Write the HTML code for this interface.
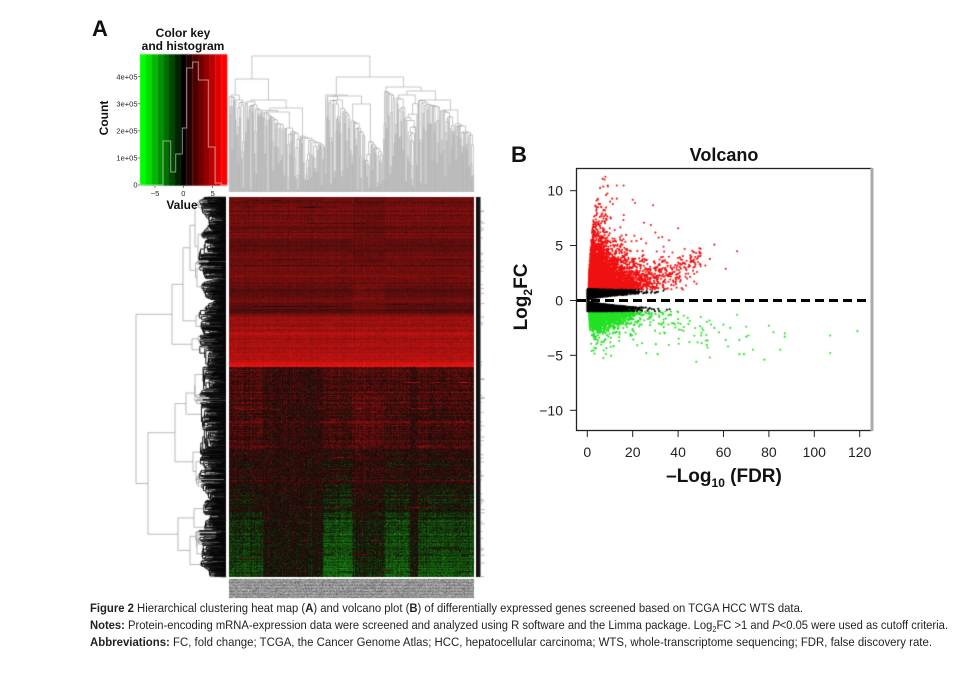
<!DOCTYPE html>
<html><head><meta charset="utf-8">
<style>
html,body{margin:0;padding:0;background:#fff;}
#wrap{position:relative;width:958px;height:678px;overflow:hidden;background:#fff;}
canvas,svg{position:absolute;left:0;top:0;}
</style></head><body>
<div id="wrap">
<canvas id="c" width="958" height="678"></canvas>
<svg width="958" height="678" viewBox="0 0 958 678" xmlns="http://www.w3.org/2000/svg" font-family="'Liberation Sans', Arial, sans-serif">
  <!-- Panel A labels -->
  <text x="92" y="36" font-size="22" font-weight="bold" fill="#111">A</text>
  <text x="183" y="37" font-size="12" font-weight="bold" text-anchor="middle" fill="#111">Color key</text>
  <text x="183" y="50" font-size="12" font-weight="bold" text-anchor="middle" fill="#111">and histogram</text>
  <polyline fill="none" stroke="rgba(215,215,215,0.65)" stroke-width="1"
    points="140,185 163,185 163,141 170.7,141 170.7,172 175.7,172 175.7,154 182.3,154 182.3,128 186.7,128 186.7,68 192.7,68 192.7,62 198.3,62 198.3,80 208.3,80 208.3,147 215,147 215,183 221,183 221,185 227,185"/>
  <g font-size="7.5" fill="#222" text-anchor="end">
    <text x="137.5" y="79.5">4e+05</text>
    <text x="137.5" y="106.5">3e+05</text>
    <text x="137.5" y="133.5">2e+05</text>
    <text x="137.5" y="160.5">1e+05</text>
    <text x="137.5" y="187.5">0</text>
  </g>
  <g stroke="#333" stroke-width="0.6">
    <line x1="138" y1="76.7" x2="140" y2="76.7"/><line x1="138" y1="103.8" x2="140" y2="103.8"/>
    <line x1="138" y1="130.9" x2="140" y2="130.9"/><line x1="138" y1="158" x2="140" y2="158"/>
    <line x1="138" y1="185" x2="140" y2="185"/>
    <line x1="155" y1="186" x2="155" y2="188"/><line x1="183.3" y1="186" x2="183.3" y2="188"/><line x1="212.7" y1="186" x2="212.7" y2="188"/>
  </g>
  <g font-size="7.5" fill="#222" text-anchor="middle">
    <text x="155" y="196">−5</text>
    <text x="183.3" y="196">0</text>
    <text x="212.7" y="196">5</text>
  </g>
  <text x="182" y="209" font-size="12" font-weight="bold" text-anchor="middle" fill="#111">Value</text>
  <text transform="translate(108,118) rotate(-90)" font-size="12" font-weight="bold" text-anchor="middle" fill="#111">Count</text>

  <!-- Panel B -->
  <text x="511" y="162" font-size="22" font-weight="bold" fill="#111">B</text>
  <text x="724" y="161" font-size="18" font-weight="bold" text-anchor="middle" fill="#111">Volcano</text>
  <line x1="577" y1="300.5" x2="871" y2="300.5" stroke="#000" stroke-width="3" stroke-dasharray="9,5"/>
  <rect x="576.5" y="168.5" width="295" height="262" fill="none" stroke="#222" stroke-width="1.3"/>
  <line x1="872" y1="168" x2="872" y2="431" stroke="#aaa" stroke-width="3"/>
  <g stroke="#222" stroke-width="1">
    <line x1="570" y1="190.7" x2="576" y2="190.7"/>
    <line x1="570" y1="245.5" x2="576" y2="245.5"/>
    <line x1="570" y1="300.5" x2="576" y2="300.5"/>
    <line x1="570" y1="355.3" x2="576" y2="355.3"/>
    <line x1="570" y1="410.3" x2="576" y2="410.3"/>
    <line x1="587.3" y1="431" x2="587.3" y2="437"/>
    <line x1="632.7" y1="431" x2="632.7" y2="437"/>
    <line x1="678.1" y1="431" x2="678.1" y2="437"/>
    <line x1="723.5" y1="431" x2="723.5" y2="437"/>
    <line x1="768.9" y1="431" x2="768.9" y2="437"/>
    <line x1="814.3" y1="431" x2="814.3" y2="437"/>
    <line x1="859.7" y1="431" x2="859.7" y2="437"/>
  </g>
  <g font-size="14" fill="#222" text-anchor="end">
    <text x="563" y="195.7">10</text>
    <text x="563" y="250.5">5</text>
    <text x="563" y="305.5">0</text>
    <text x="563" y="360.3">−5</text>
    <text x="563" y="415.3">−10</text>
  </g>
  <g font-size="14" fill="#222" text-anchor="middle">
    <text x="587.3" y="457">0</text>
    <text x="632.7" y="457">20</text>
    <text x="678.1" y="457">40</text>
    <text x="723.5" y="457">60</text>
    <text x="768.9" y="457">80</text>
    <text x="814.3" y="457">100</text>
    <text x="859.7" y="457">120</text>
  </g>
  <text transform="translate(527,297) rotate(-90)" font-size="19" font-weight="bold" text-anchor="middle" fill="#111">Log<tspan font-size="12" dy="5">2</tspan><tspan dy="-5">FC</tspan></text>
  <text x="724" y="482" font-size="19" font-weight="bold" text-anchor="middle" fill="#111">–Log<tspan font-size="12" dy="5">10</tspan><tspan dy="-5"> (FDR)</tspan></text>

  <!-- Caption -->
  <g font-size="12.3" fill="#231f20">
    <text x="90" y="612" textLength="713" lengthAdjust="spacingAndGlyphs"><tspan font-weight="bold">Figure 2</tspan> Hierarchical clustering heat map (<tspan font-weight="bold">A</tspan>) and volcano plot (<tspan font-weight="bold">B</tspan>) of differentially expressed genes screened based on TCGA HCC WTS data.</text>
    <text x="90" y="629" textLength="858" lengthAdjust="spacingAndGlyphs"><tspan font-weight="bold">Notes:</tspan> Protein-encoding mRNA-expression data were screened and analyzed using R software and the Limma package. Log<tspan font-size="8" dy="3">2</tspan><tspan dy="-3">FC &gt;1 and </tspan><tspan font-style="italic">P</tspan>&lt;0.05 were used as cutoff criteria.</text>
    <text x="90" y="646" textLength="842" lengthAdjust="spacingAndGlyphs"><tspan font-weight="bold">Abbreviations:</tspan> FC, fold change; TCGA, the Cancer Genome Atlas; HCC, hepatocellular carcinoma; WTS, whole-transcriptome sequencing; FDR, false discovery rate.</text>
  </g>
</svg>
</div>
<script>
(function(){
const cv=document.getElementById('c'); const ctx=cv.getContext('2d');
let seed=2463534242;
function rnd(){ let x=seed; x^=x<<13; x>>>=0; x^=x>>>17; x^=x<<5; x>>>=0; seed=x; return x/4294967296; }
function gauss(){ let u=rnd(); if(u<1e-12)u=1e-12; return Math.sqrt(-2*Math.log(u))*Math.cos(6.283185307*rnd()); }
function expo(m){ let u=rnd(); if(u<1e-12)u=1e-12; return -Math.log(u)*m; }
function interp(p,v){ if(v<=p[0][0]) return p[0][1]; for(let i=0;i<p.length-1;i++){ if(v<=p[i+1][0]){ const t=(v-p[i][0])/(p[i+1][0]-p[i][0]); return p[i][1]+t*(p[i+1][1]-p[i][1]); } } return p[p.length-1][1]; }
function cl(v){ return v<0?0:(v>255?255:Math.round(v)); }

// ---------- Color key stripes ----------
const nS=15, kx0=140, kx1=227, ky0=54.3, ky1=185.7;
for(let i=0;i<nS;i++){
  const v=-7.6+(i+0.5)*15.3/nS;
  let r=0,g=0;
  if(v<0) g=255*Math.min(1,-v/7.0); else r=255*Math.min(1,v/7.0);
  ctx.fillStyle='rgb('+cl(r)+','+cl(g)+',0)';
  const xa=kx0+i*(kx1-kx0)/nS, xb=kx0+(i+1)*(kx1-kx0)/nS;
  ctx.fillRect(xa,ky0,xb-xa+0.3,ky1-ky0);
}

// ---------- Dendrogram helper ----------
function dendro(pos,m,leafEnd,seg){
  function rec(a,b){
    if(a===b) return [pos[a],leafEnd];
    let k=a,best=m[a];
    for(let i=a+1;i<b;i++){ if(m[i]<best){best=m[i];k=i;} }
    const L=rec(a,k),R=rec(k+1,b);
    seg(L[0],best,R[0],best);
    seg(L[0],best,L[0],L[1]);
    seg(R[0],best,R[0],R[1]);
    return [(L[0]+R[0])/2,best];
  }
  rec(0,pos.length-1);
}

// ---------- Top dendrogram ----------
(function(){
  const N=360, pos=[], m=[];
  for(let i=0;i<N;i++) pos.push(229+(i+0.5)*245/N);
  const env=[[229,100],[250,106],[262,114],[280,128],[300,140],[325,150],[326,98],[340,110],[383,160],[384,94],[400,104],[405,112],[412,150],[418,104],[440,112],[474,142]];
  for(let k=0;k<N-1;k++){
    const xb=229+(k+1)*245/N;
    const e=interp(env,xb)-4;
    m.push(e+(192-e)*Math.pow(rnd(),3));
  }
  const forced=[[325,56],[383,77],[245,79],[395,87],[418,91],[440,100],[300,108],[262,100],[350,96],[365,104],[285,112],[455,110],[235,95],[340,100],[405,95]];
  forced.forEach(f=>{ const k=Math.max(0,Math.min(N-2,Math.round((f[0]-229)/245*N-1))); m[k]=f[1]; });
  ctx.save(); ctx.strokeStyle='#8c8c8c'; ctx.lineWidth=0.5; ctx.beginPath();
  dendro(pos,m,192,(x1,y1,x2,y2)=>{ ctx.moveTo(x1,y1); ctx.lineTo(x2,y2); });
  ctx.stroke(); ctx.restore();
})();

// ---------- Left dendrogram ----------
(function(){
  const N=1000, pos=[], m=[];
  for(let i=0;i<N;i++) pos.push(197+(i+0.5)*380/N);
  for(let k=0;k<N-1;k++){
    const y=197+(k+1)*380/N;
    const L=204+4*Math.sin(y*0.09)+3.5*Math.sin(y*0.23+1)+2*Math.sin(y*0.61);
    m.push(L+(226-L)*Math.pow(rnd(),2.2));
  }
  const forced=[[367,136],[335,172],[500,148],[300,183],[260,190],[225,195],[430,175],[530,178],[405,186],[560,190],[470,196],[280,197],[345,192],[390,195],[515,194],[240,198],[320,196],[455,193],[545,197]];
  forced.forEach(f=>{ const k=Math.max(0,Math.min(N-2,Math.round((f[0]-197)/380*N-1))); m[k]=f[1]; });
  const gray=[], blk=[];
  dendro(pos,m,226,(p1,h1,p2,h2)=>{ const s=[h1,p1,h2,p2]; if(Math.min(h1,h2)>=199) blk.push(s); else gray.push(s); });
  ctx.save();
  ctx.strokeStyle='#8a8a8a'; ctx.lineWidth=0.6; ctx.beginPath();
  gray.forEach(s=>{ ctx.moveTo(s[0],s[1]); ctx.lineTo(s[2],s[3]); }); ctx.stroke();
  ctx.strokeStyle='#000'; ctx.lineWidth=0.9; ctx.beginPath();
  blk.forEach(s=>{ ctx.moveTo(s[0],s[1]); ctx.lineTo(s[2],s[3]); }); ctx.stroke();
  ctx.restore();
})();

// ---------- Heatmap ----------
(function(){
  const HX=229,HY=197,HW=245,HH=380;
  const img=ctx.createImageData(HW,HH); const d=img.data;
  const rowEff=[],colEff=[],segs=[];
  for(let j=0;j<HH;j++){ rowEff.push(gauss()*0.05);
    const s=[]; const y=HY+j;
    if(y>=367 && rnd()<0.07){ const n=2+Math.floor(rnd()*4); for(let q=0;q<n;q++){ const a=229+rnd()*235; s.push([a,a+5+rnd()*16,0.16+rnd()*0.18]); } }
    if(y<313 && rnd()<0.05){ const n=2+Math.floor(rnd()*3); for(let q=0;q<n;q++){ const a=229+rnd()*235; s.push([a,a+10+rnd()*30,-0.12]); } }
    segs.push(s);
  }
  for(let i=0;i<HW;i++) colEff.push(gauss()*0.035);
  const topPts=[[197,0.36],[300,0.36],[312,0.34],[316,0.52],[355,0.60],[362,0.70],[366,0.74]];
  const botPts=[[367,0.22],[420,0.18],[455,0.11],[480,0.03],[510,-0.1],[545,-0.2],[577,-0.3]];
  function group(x){ if(x<263) return 0.8; if(x<323) return 0.45; if(x<353) return 1.05; if(x<385) return 0.6; if(x<410) return 1.0; if(x<418) return 0.45; return 0.92; }
  for(let j=0;j<HH;j++){
    const y=HY+j;
    for(let i=0;i<HW;i++){
      const x=HX+i; let v;
      if(y<367){
        v=interp(topPts,y)+rowEff[j]+colEff[i]*0.5+gauss()*0.045;
        if(((y>238&&y<250)||(y>284&&y<300)||(y>302&&y<313)) && !(x>=353&&x<385)) v*=0.82;
        if(x>=353&&x<385&&y<262) v*=0.88;
      } else {
        let b=interp(botPts,y)+rowEff[j]*1.3;
        const g=group(x);
        if(b<0.2) b=0.2+(b-0.2)*g*1.1;
        if(g<0.5) b*=0.6;
        if(x>=353&&x<385&&y>395&&y<445) b+=0.06;
        v=b+colEff[i]+gauss()*0.09;
      }
      const s=segs[j];
      for(let q=0;q<s.length;q++){ if(x>=s[q][0]&&x<=s[q][1]) v+=s[q][2]; }
      let R,G,B;
      if(v>=0){ R=18+255*v; G=10+12*v; B=10+10*v; } else { const a=-v; R=18+5*a; G=14+245*a; B=10+12*a; }
      const o=(j*HW+i)*4; d[o]=cl(R); d[o+1]=cl(G); d[o+2]=cl(B); d[o+3]=255;
    }
  }
  ctx.putImageData(img,HX,HY);
})();

// ---------- Bottom label strip ----------
(function(){
  const X=229,Y=579,W=245,H=19;
  const img=ctx.createImageData(W,H); const d=img.data;
  for(let j=0;j<H;j++){ const re=(j%3===0)?-18:(j%3===1?8:0);
    for(let i=0;i<W;i++){ const v=cl(150+re+gauss()*18); const o=(j*W+i)*4; d[o]=v; d[o+1]=v; d[o+2]=v; d[o+3]=255; } }
  ctx.putImageData(img,X,Y);
})();

// ---------- Right bar ----------
ctx.fillStyle='#111'; ctx.fillRect(476,197,4.5,380);
ctx.strokeStyle='#777'; ctx.lineWidth=0.5; ctx.beginPath();
for(let i=0;i<60;i++){ const y=197+rnd()*380; ctx.moveTo(480.5,y); ctx.lineTo(482+rnd()*3,y); }
ctx.stroke();

// ---------- Volcano ----------
(function(){
  const X=x=>587.3+2.27*x, Y=y=>300.5-10.95*y;
  const red=[],green=[],black=[];
  for(let i=0;i<5200;i++){
    const y=1+expo(1.3); if(y>11.3) continue;
    const xmin=0.5+0.04*y*y;
    const sp=y<2?6.5:(y<4?7:(y<6?5:3));
    const x=xmin+expo(sp); if(x>48) continue;
    red.push([x,y]);
  }
  for(let i=0;i<220;i++){ const x=18+rnd()*32; const y=1.3+(x-15)*0.07+gauss()*0.7; if(y<1.05) continue; red.push([x,y]); }
  [[8,11.3],[7,10.4],[9,10.5],[13,10.5],[16,10.5],[11,9.3],[13,9.3],[20,9.2],[21,8.9],[29,8.7],[25,7.1],[28,6.9],[40,6.6],[36,5.5],[56,5.1],[50,4.3],[47,4.4],[66,4.5],[61,2.9],[52,3.2],[44,2.0],[54,3.8],[33,5.8],[30,6.2]].forEach(p=>red.push(p));
  for(let i=0;i<1800;i++){
    const a=1+expo(0.55); if(a>5.7) continue;
    const xmin=0.7+0.05*a*a;
    const x=xmin+expo(a<2?6.5:7); if(x>45) continue;
    green.push([x,-a]);
  }
  for(let i=0;i<40;i++){ const x=30+rnd()*25; const a=1.3+rnd()*2.8; green.push([x,-a]); }
  [[66,-1.3],[70,-2.4],[67,-3.6],[70,-3.3],[71,-3.2],[67,-4.9],[69,-4.9],[73,-4.5],[78,-5.4],[80,-2.3],[82,-2.9],[85,-4.5],[87,-3.0],[87,-3.3],[107,-3.2],[107,-4.8],[119,-2.8],[60,-2.2],[61,-3.6],[62,-4.2],[53,-4.3],[54,-5.2],[48,-5.6],[31,-4.9],[26,-4.8],[22,-4.1],[45,-3.8],[50,-1.5],[56,-2.5],[58,-2.9],[63,-2.5]].forEach(p=>green.push(p));
  for(let i=0;i<9000;i++){
    const x=expo(4.5); if(x>38) continue;
    const w=Math.min(0.85,0.13*Math.sqrt(x));
    const a=w+(1-w)*rnd();
    const s=rnd()<0.5?1:-1;
    black.push([x,s*a*0.98]);
  }
  ctx.save(); ctx.beginPath(); ctx.rect(577,169,294,261); ctx.clip();
  function draw(arr,col){ ctx.fillStyle=col; ctx.beginPath(); arr.forEach(p=>{ const px=X(p[0]),py=Y(p[1]); ctx.moveTo(px+1.05,py); ctx.arc(px,py,1.05,0,6.2832); }); ctx.fill(); }
  draw(red,'#f01010');
  draw(green,'#22e022');
  draw(black,'#000');
  ctx.restore();
})();
})();
</script>
</body></html>
